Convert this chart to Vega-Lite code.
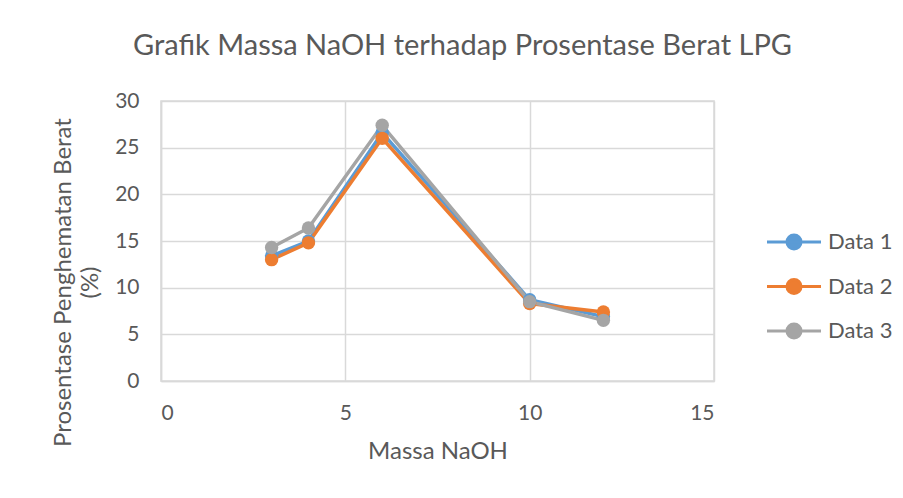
{
  "$schema": "https://vega.github.io/schema/vega-lite/v6.json",
  "autosize": {"type": "none"},
  "width": 553,
  "height": 280,
  "padding": {"left": 161, "top": 101, "right": 189, "bottom": 117},
  "background": "white",
  "title": {
    "text": "Grafik Massa NaOH terhadap Prosentase Berat LPG",
    "font": "Lato",
    "fontSize": 29,
    "fontWeight": "normal",
    "color": "#595959",
    "anchor": "middle",
    "dx": 25,
    "offset": 29
  },
  "config": {
    "view": {"stroke": "#d9d9d9", "strokeWidth": 1.5},
    "axis": {
      "labelFont": "Lato",
      "titleFont": "Lato",
      "labelColor": "#595959",
      "titleColor": "#595959",
      "labelFontSize": 21,
      "titleFontSize": 24,
      "titleFontWeight": "normal",
      "gridColor": "#d9d9d9",
      "gridWidth": 1.5,
      "domainColor": "#d9d9d9",
      "domainWidth": 1.5,
      "ticks": false
    },
    "legend": {
      "labelFont": "Lato",
      "labelFontSize": 22,
      "labelColor": "#595959"
    }
  },
  "data": {
    "values": [
      {"x": 3, "y": 13.4, "s": "Data 1"},
      {"x": 4, "y": 15.0, "s": "Data 1"},
      {"x": 6, "y": 26.6, "s": "Data 1"},
      {"x": 10, "y": 8.7, "s": "Data 1"},
      {"x": 12, "y": 6.9, "s": "Data 1"},
      {"x": 3, "y": 13.0, "s": "Data 2"},
      {"x": 4, "y": 14.8, "s": "Data 2"},
      {"x": 6, "y": 26.0, "s": "Data 2"},
      {"x": 10, "y": 8.3, "s": "Data 2"},
      {"x": 12, "y": 7.4, "s": "Data 2"},
      {"x": 3, "y": 14.3, "s": "Data 3"},
      {"x": 4, "y": 16.4, "s": "Data 3"},
      {"x": 6, "y": 27.4, "s": "Data 3"},
      {"x": 10, "y": 8.5, "s": "Data 3"},
      {"x": 12, "y": 6.5, "s": "Data 3"}
    ]
  },
  "encoding": {
    "x": {
      "field": "x", "type": "quantitative",
      "scale": {"domain": [0, 15], "nice": false},
      "axis": {"values": [0, 5, 10, 15], "title": "Massa NaOH", "labelPadding": 21, "titlePadding": 16}
    },
    "y": {
      "field": "y", "type": "quantitative",
      "scale": {"domain": [0, 30], "nice": false},
      "axis": {
        "values": [0, 5, 10, 15, 20, 25, 30],
        "title": ["Prosentase Penghematan Berat", "(%)"],
        "labelPadding": 22,
        "titleAnchor": "middle",
        "titleBaseline": "middle",
        "titleLineHeight": 27,
        "titleX": -98,
        "titleY": 181
      }
    },
    "color": {
      "field": "s", "type": "nominal",
      "scale": {"domain": ["Data 1", "Data 2", "Data 3"], "range": ["#5b9bd5", "#ed7d31", "#a5a5a5"]},
      "legend": {
        "title": null,
        "orient": "none",
        "legendX": 618,
        "legendY": 126,
        "symbolType": "M-2,0L2,0M-0.52,0A0.52,0.52 0 1,1 0.52,0A0.52,0.52 0 1,1 -0.52,0Z",
        "symbolSize": 729,
        "symbolStrokeWidth": 3,
        "symbolOpacity": 1,
        "labelOffset": 19,
        "rowPadding": 15.5
      }
    }
  },
  "layer": [
    {"mark": {"type": "line", "strokeWidth": 3.5}},
    {"mark": {"type": "point", "filled": true, "size": 180, "opacity": 1}}
  ]
}
